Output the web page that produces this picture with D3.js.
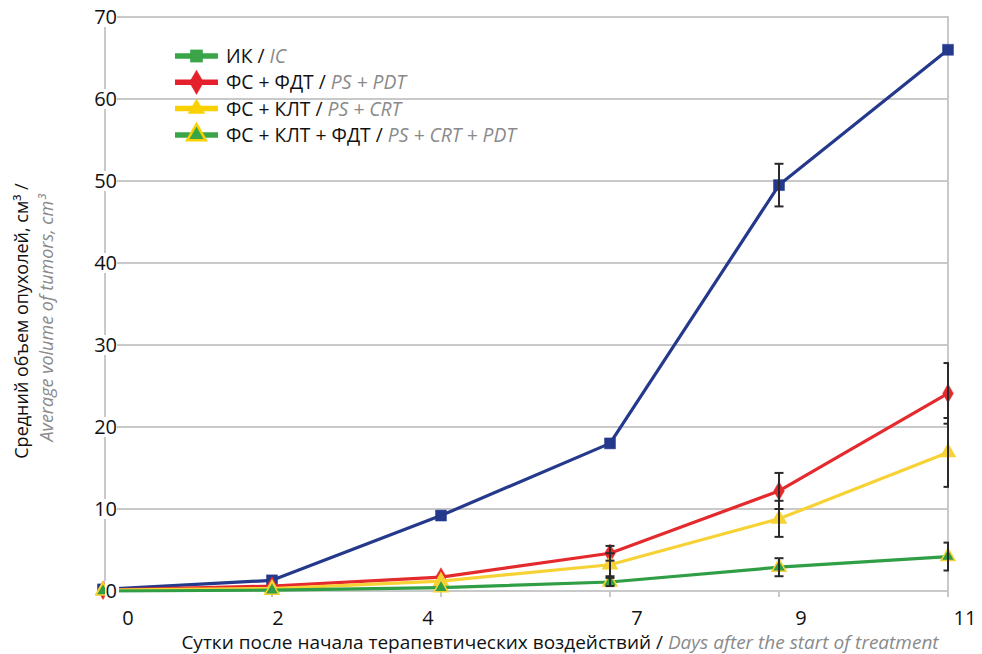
<!DOCTYPE html>
<html><head><meta charset="utf-8">
<script src="https://cdn.jsdelivr.net/npm/d3@7"></script>
<style>
html,body{margin:0;padding:0;background:#fff;}
svg text{font-family:"Open Sans","Noto Sans",sans-serif;}
</style></head>
<body>
<svg id="chart" width="982" height="654"></svg>
<script>
// ---- data ----
const days = ["0", "2", "4", "7", "9", "11"];
const icValues      = [0.2, 1.3, 9.2, 18.0, 49.5, 66.0];
const icErr         = [0, 0, 0, 0, 2.6, 0];
const psPdtValues   = [0.1, 0.6, 1.7, 4.6, 12.2, 24.1];
const psPdtErr      = [0, 0, 0, 0.9, 2.2, 3.7];
const psCrtValues   = [0.1, 0.3, 1.2, 3.2, 8.8, 16.9];
const psCrtErr      = [0, 0, 0, 1.4, 2.2, 4.2];
const psCrtPdtValues= [0.0, 0.1, 0.4, 1.1, 2.9, 4.2];
const psCrtPdtErr   = [0, 0, 0, 0.5, 1.1, 1.7];
const yTicks = [0, 10, 20, 30, 40, 50, 60, 70];
const seriesNamesRu = ["ИК", "ФС + ФДТ", "ФС + КЛТ", "ФС + КЛТ + ФДТ"];
const seriesNamesEn = ["IC", "PS + PDT", "PS + CRT", "PS + CRT + PDT"];
const yTitleRu = "Средний объем опухолей, см³ /";
const yTitleEn = "Average volume of tumors, cm³";
const xTitleRu = "Сутки после начала терапевтических воздействий / ";
const xTitleEn = "Days after the start of treatment";

// ---- layout ----
const svg = d3.select("#chart");
const pLeft = 105, pRight = 948, pTop = 17, pBottom = 591;

const x = d3.scalePoint().domain(days).range([103, pRight]);
// tick labels of the original sit on their own (non-uniform) day scale
const xLabel = d3.scaleLinear().domain([0, 4, 7, 11]).range([128, 428, 637, 965]);
const y = d3.scaleLinear().domain([0, 70]).range([pBottom, pTop]);

const series = [
  {values: icValues, err: icErr, color: "#25398c", marker: "square", fill: "#25398c", stroke: "#25398c"},
  {values: psPdtValues, err: psPdtErr, color: "#e52a2e", marker: "diamond", fill: "#e52a2e", stroke: "#e52a2e"},
  {values: psCrtValues, err: psCrtErr, color: "#f7d235", marker: "triangle", fill: "#f7d235", stroke: "#f7d235"},
  {values: psCrtPdtValues, err: psCrtPdtErr, color: "#2f9e44", marker: "triangle", fill: "#2f9e44", stroke: "#f7d235"}
];
const legendSpec = [
  {color: "#3aa548", marker: "square", fill: "#3aa548", stroke: "#3aa548", size: 150},
  {color: "#e3202b", marker: "diamond", fill: "#e3202b", stroke: "#e3202b", size: 170},
  {color: "#f9d100", marker: "triangle", fill: "#f9d100", stroke: "#f9d100", size: 120},
  {color: "#3aa548", marker: "triangle", fill: "#3aa548", stroke: "#f9d100", size: 150}
];
const symType = {square: d3.symbolSquare, diamond: d3.symbolDiamond, triangle: d3.symbolTriangle};

// ---- grid ----
const grid = svg.append("g");
grid.selectAll("line.h").data(yTicks).join("line")
  .attr("x1", pLeft).attr("x2", pRight)
  .attr("y1", d => y(d)).attr("y2", d => y(d))
  .attr("stroke", "#c9c9c9").attr("stroke-width", 2);
grid.append("line").attr("x1", pLeft).attr("x2", pLeft).attr("y1", pTop - 1).attr("y2", pBottom + 1)
  .attr("stroke", "#c9c9c9").attr("stroke-width", 2);
grid.append("line").attr("x1", pRight).attr("x2", pRight).attr("y1", pTop - 1).attr("y2", pBottom + 6)
  .attr("stroke", "#c9c9c9").attr("stroke-width", 2);
grid.selectAll("line.t").data(days).join("line")
  .attr("x1", d => x(d)).attr("x2", d => x(d))
  .attr("y1", pBottom).attr("y2", pBottom + 6)
  .attr("stroke", "#c9c9c9").attr("stroke-width", 2);

// ---- lines and markers ----
const line = d3.line().x((d, i) => x(days[i])).y(d => y(d));
series.forEach(s => {
  svg.append("path").datum(s.values)
    .attr("d", line).attr("fill", "none")
    .attr("stroke", s.color).attr("stroke-width", 3.2).attr("stroke-linejoin", "round");
  svg.append("g").selectAll("path").data(s.values).join("path")
    .attr("transform", (d, i) => `translate(${x(days[i])},${y(d)})`)
    .attr("d", d3.symbol().type(symType[s.marker]).size(s.marker === "square" ? 120 : s.marker === "diamond" ? 100 : 85))
    .attr("fill", s.fill).attr("stroke", s.stroke).attr("stroke-width", s.marker === "triangle" ? 1.5 : 0.5);
});

// ---- error bars ----
svg.append("clipPath").attr("id", "plotclip").append("rect")
  .attr("x", 0).attr("y", 0).attr("width", pRight + 1).attr("height", 654);
const eb = svg.append("g").attr("clip-path", "url(#plotclip)")
  .attr("stroke", "#2a2a2a").attr("stroke-width", 2);
series.forEach(s => {
  s.values.forEach((v, i) => {
    const e = s.err[i];
    if (!e) return;
    const cx = x(days[i]);
    eb.append("line").attr("x1", cx).attr("x2", cx).attr("y1", y(v + e)).attr("y2", y(v - e));
    eb.append("line").attr("x1", cx - 4.5).attr("x2", cx + 4.5).attr("y1", y(v + e)).attr("y2", y(v + e));
    eb.append("line").attr("x1", cx - 4.5).attr("x2", cx + 4.5).attr("y1", y(v - e)).attr("y2", y(v - e));
  });
});

// ---- y tick labels ----
const yl = svg.append("g");
yTicks.forEach(t => {
  yl.append("rect").attr("y", y(t) - 10).attr("width", t === 0 ? 14 : 32).attr("height", 20)
    .attr("fill", "#fff").attr("x", t === 0 ? 105 : 85);
  yl.append("text").attr("x", 117).attr("y", y(t)).attr("dy", "0.35em")
    .attr("text-anchor", "end").attr("font-size", 20).attr("fill", "#111").text(t);
});

// ---- x tick labels ----
svg.append("g").selectAll("text").data(days).join("text")
  .attr("x", d => xLabel(+d)).attr("y", 625)
  .attr("text-anchor", "middle").attr("font-size", 20).attr("fill", "#111").text(d => d);

// ---- axis titles ----
const xt = svg.append("text").attr("x", 560).attr("y", 649).attr("text-anchor", "middle").attr("font-size", 19);
xt.append("tspan").attr("fill", "#111").text(xTitleRu);
xt.append("tspan").attr("fill", "#8a8a8a").attr("font-style", "italic").text(xTitleEn);

svg.append("text").attr("transform", "translate(28,321) rotate(-90)")
  .attr("text-anchor", "middle").attr("font-size", 18).attr("fill", "#111").text(yTitleRu);
svg.append("text").attr("transform", "translate(53,318) rotate(-90)")
  .attr("text-anchor", "middle").attr("font-size", 18).attr("fill", "#8a8a8a").attr("font-style", "italic").text(yTitleEn);

// ---- legend ----
const lg = svg.append("g");
legendSpec.forEach((l, i) => {
  const ly = 56 + i * 26.3;
  lg.append("line").attr("x1", 175).attr("x2", 218).attr("y1", ly).attr("y2", ly)
    .attr("stroke", l.color).attr("stroke-width", 5.5);
  lg.append("path").attr("transform", `translate(196.5,${ly})`)
    .attr("d", d3.symbol().type(symType[l.marker]).size(l.size))
    .attr("fill", l.fill).attr("stroke", l.stroke).attr("stroke-width", i === 3 ? 2.5 : 0.5);
  const t = lg.append("text").attr("x", 226).attr("y", ly).attr("dy", "0.36em").attr("font-size", 19.3);
  t.append("tspan").attr("fill", "#111").text(seriesNamesRu[i] + " / ");
  t.append("tspan").attr("fill", "#8a8a8a").attr("font-style", "italic").text(seriesNamesEn[i]);
});
</script>
</body></html>
